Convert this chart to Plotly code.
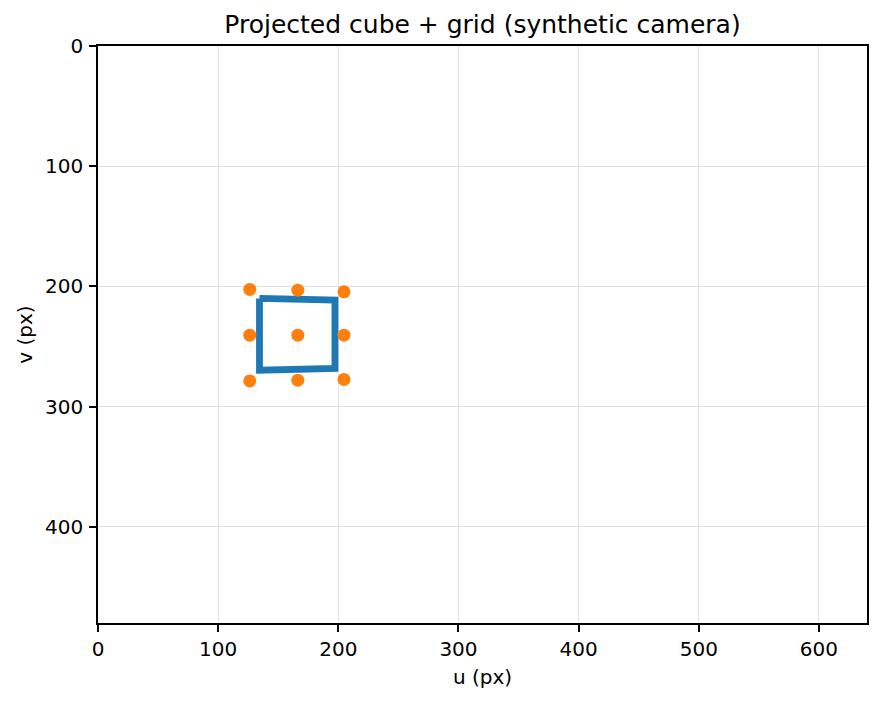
import plotly.graph_objects as go

# Projected cube edges (closed outline, image coords in px)
cube_u = [134.4, 197.2, 197.2, 134.4, 134.4]
cube_v = [210.0, 211.4, 268.3, 269.7, 210.0]

# Projected grid points
grid_u = [126.3, 166.3, 204.7, 126.3, 166.3, 204.7, 126.3, 166.3, 204.7]
grid_v = [202.5, 203.1, 204.5, 240.6, 240.6, 240.6, 278.6, 278.0, 277.4]

x_ticks = [0, 100, 200, 300, 400, 500, 600]
y_ticks = [0, 100, 200, 300, 400]

FONT = "DejaVu Sans"
W, H = 874, 695  # page body has an 8px margin

fig = go.Figure()
fig.add_trace(go.Scatter(x=cube_u, y=cube_v, mode="lines",
                         line=dict(color="#1f77b4", width=6.8),
                         showlegend=False, hoverinfo="skip"))
fig.add_trace(go.Scatter(x=grid_u, y=grid_v, mode="markers",
                         marker=dict(color="#ff7f0e", size=13, line=dict(width=0)),
                         showlegend=False))

axis_common = dict(
    showline=True, linecolor="black", linewidth=1.5, mirror=True,
    ticks="outside", ticklen=7, tickwidth=1.5, tickcolor="black",
    showgrid=True, gridcolor="rgba(176,176,176,0.35)", gridwidth=1.2,
    zeroline=False, tickfont=dict(family=FONT, size=20, color="black"),
    automargin=False,
)

fig.update_layout(
    width=W, height=H,
    margin=dict(l=90, r=15, t=38, b=80),
    paper_bgcolor="white", plot_bgcolor="white",
    title=dict(text="Projected cube + grid (synthetic camera)",
               xref="paper", x=0.5, xanchor="center",
               yref="container", y=1 - 16 / H, yanchor="middle",
               font=dict(family=FONT, size=25, color="black")),
    xaxis=dict(range=[0, 640], tickvals=x_ticks, ticklabelstandoff=0,
               title=dict(text="u (px)", font=dict(family=FONT, size=20, color="black"), standoff=10),
               **axis_common),
    yaxis=dict(range=[480, 0], tickvals=y_ticks, ticklabelstandoff=2,
               title=dict(text="v (px)", font=dict(family=FONT, size=20, color="black"), standoff=7),
               **axis_common),
)

fig.write_html("out.html")
